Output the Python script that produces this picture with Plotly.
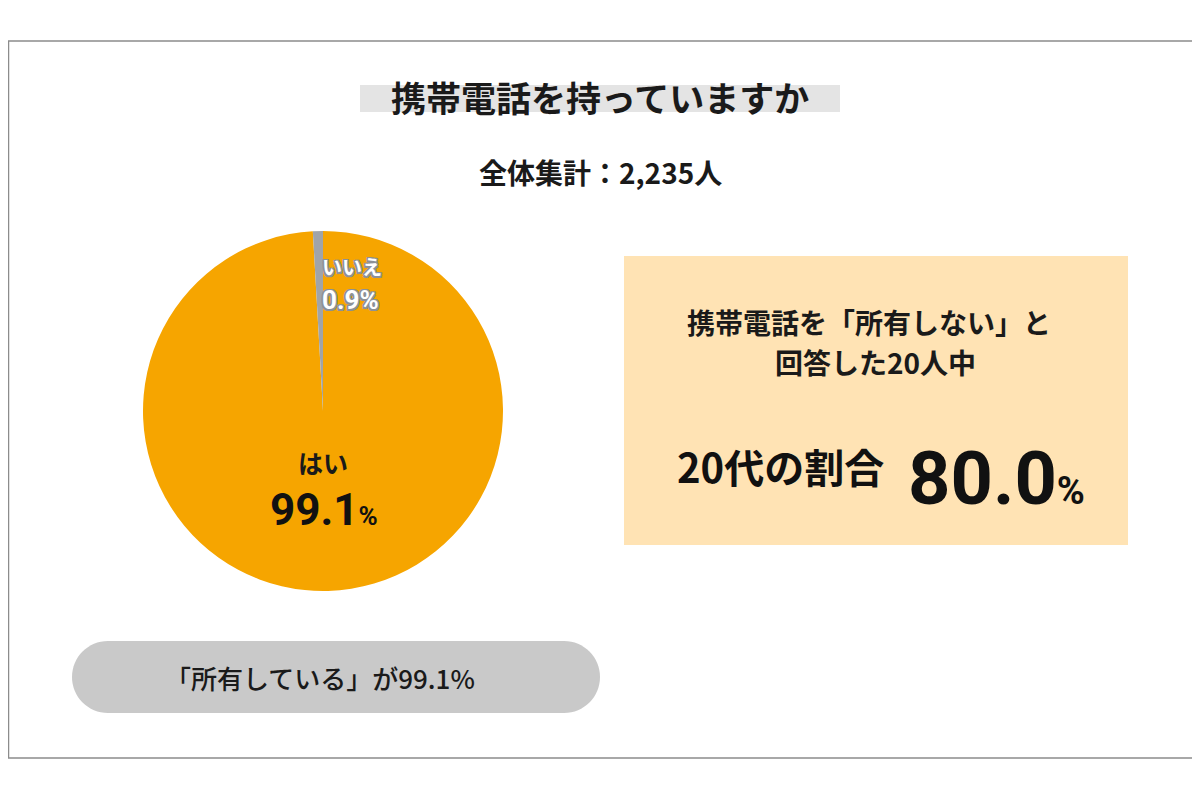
import plotly.graph_objects as go

# survey data
answers = ["はい", "いいえ"]
shares = [99.1, 0.9]
total_respondents = 2235
no_phone_count = 20
twenties_share = 80.0

title_text = "携帯電話を持っていますか"
subtitle_text = f"全体集計：{total_respondents:,}人"
pill_text = f"「所有している」が{shares[0]}%"
box_lines = ["携帯電話を「所有しない」と", f"回答した{no_phone_count}人中"]

JP = "Noto Sans CJK JP"
NUM = "Roboto, sans-serif"

ORANGE = "#F6A500"
GREY_SLICE = "#A0A4A9"

# the page body adds an 8px offset, so work in page pixels and shift
OFF = 8


def pill_path(x0, y0, x1, y1):
    # rounded capsule, drawn with bezier curves (plotly has no arc command)
    r = (y1 - y0) / 2
    k = 0.5523 * r
    return (f"M {x0 + r},{y0} L {x1 - r},{y0} "
            f"C {x1 - r + k},{y0} {x1},{y0 + r - k} {x1},{y0 + r} "
            f"C {x1},{y0 + r + k} {x1 - r + k},{y1} {x1 - r},{y1} "
            f"L {x0 + r},{y1} "
            f"C {x0 + r - k},{y1} {x0},{y0 + r + k} {x0},{y0 + r} "
            f"C {x0},{y0 + r - k} {x0 + r - k},{y0} {x0 + r},{y0} Z")


fig = go.Figure()

fig.add_trace(go.Pie(
    labels=answers,
    values=shares,
    sort=False,
    direction="clockwise",
    rotation=0,
    marker=dict(colors=[ORANGE, GREY_SLICE], line=dict(width=0)),
    textinfo="none",
    hoverinfo="label+percent",
    showlegend=False,
    domain=dict(x=[(143 - OFF) / 1200, (503 - OFF) / 1200],
                y=[1 - (591 - OFF) / 800, 1 - (231 - OFF) / 800]),
))

# invisible pixel axes for the decorations (page coordinates)
fig.update_xaxes(range=[OFF, 1200 + OFF], visible=False, fixedrange=True)
fig.update_yaxes(range=[800 + OFF, OFF], visible=False, fixedrange=True)
fig.add_trace(go.Scatter(x=[OFF, 1200], y=[OFF, 800], mode="markers",
                         marker=dict(opacity=0), hoverinfo="skip", showlegend=False))

shapes = [
    # outer frame
    dict(type="rect", x0=OFF + 0.5, y0=41, x1=1198, y1=758, line=dict(color="#8c8c8c", width=1.5)),
    # title band
    dict(type="rect", x0=360, y0=85, x1=840, y1=112, fillcolor="#E4E4E4", line=dict(width=0), layer="below"),
    # right box
    dict(type="rect", x0=624, y0=256, x1=1128, y1=545, fillcolor="#FFE3B4", line=dict(width=0), layer="below"),
    # bottom pill
    dict(type="path", path=pill_path(72, 641, 600, 713), fillcolor="#C9C9C9", line=dict(width=0), layer="below"),
]

outline = ", ".join(f"{dx}px {dy}px 0px #8d9197" for dx in (-1.5, 0, 1.5) for dy in (-1.5, 0, 1.5))

annotations = [
    dict(x=600, y=96, text=title_text, font=dict(family=JP, size=35, color="#1a1a1a", weight="bold")),
    dict(x=600, y=172, text=subtitle_text, font=dict(family=JP, size=28, color="#1a1a1a", weight="bold")),
    # pie labels
    dict(x=352, y=266, text=answers[1],
         font=dict(family=JP, size=20, color="white", weight="bold", shadow=outline)),
    dict(x=350, y=300, text=f"{shares[1]}%",
         font=dict(family=NUM, size=26, color="white", weight="bold", shadow=outline)),
    dict(x=323, y=462, text=answers[0], font=dict(family=JP, size=25, color="#1a1a1a", weight="bold")),
    dict(x=268, y=510, xanchor="left",
         text=f"{shares[0]}<span style='font-size:26px'>%</span>",
         font=dict(family=NUM, size=44, color="#111111", weight="bold")),
    # right box text
    dict(x=869, y=322, text=box_lines[0], font=dict(family=JP, size=28, color="#1a1a1a", weight="bold")),
    dict(x=875, y=362, text=box_lines[1], font=dict(family=JP, size=28, color="#1a1a1a", weight="bold")),
    dict(x=780, y=466, text="20代の割合", font=dict(family=JP, size=40, color="#111111", weight="bold")),
    dict(x=906, y=478, xanchor="left",
         text=f"{twenties_share}<span style='font-size:38px'>%</span>",
         font=dict(family=NUM, size=74, color="#111111", weight="bold")),
    # pill text
    dict(x=320, y=677, text=pill_text, font=dict(family=JP, size=26, color="#1a1a1a", weight=500)),
]
for a in annotations:
    a.setdefault("xanchor", "center")
    a.update(xref="x", yref="y", showarrow=False, yanchor="middle")

fig.update_layout(
    width=1200,
    height=800,
    margin=dict(l=0, r=0, t=0, b=0),
    paper_bgcolor="white",
    plot_bgcolor="rgba(0,0,0,0)",
    shapes=shapes,
    annotations=annotations,
    showlegend=False,
)

fig.write_html("out.html", config=dict(displayModeBar=False))
